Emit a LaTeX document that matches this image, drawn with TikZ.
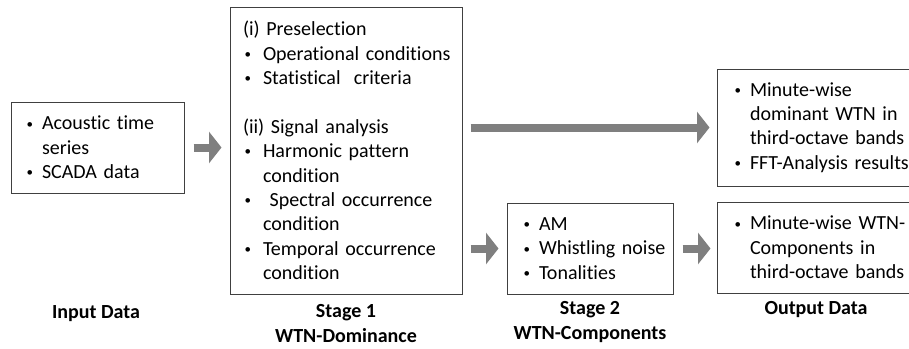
\documentclass[tikz,border=0pt]{standalone}
\usepackage{fontspec}
\setmainfont{Carlito}[Ligatures=NoCommon]
\usetikzlibrary{positioning,arrows.meta}
\definecolor{arrowgray}{RGB}{127,127,127}
\definecolor{boxline}{RGB}{64,64,64}
\newlength{\boxins}
\newcommand{\bul}[1][17pt]{\hspace*{\boxins}\makebox[#1][l]{\hspace{1.5pt}\raisebox{1.8pt}{\fontsize{13}{13}\selectfont•}}}
\newcommand{\cnt}[1][17pt]{\hspace*{\boxins}\hspace*{#1}}
\newcommand{\hd}{\hspace*{\boxins}}
\begin{document}
\begin{tikzpicture}[x=1pt, y=-1pt,
  box/.style={draw=boxline, line width=1pt, inner xsep=0pt, inner ysep=0pt, align=left, font=\fontsize{20}{24.4}\selectfont},
  ins/.style={execute at begin node={\setlength{\boxins}{#1}}},
  lbl/.style={inner sep=0pt, align=center, font=\fontsize{20}{25}\selectfont\bfseries},
  flow/.style={draw=arrowgray, line width=8pt, -{Triangle[width=31pt,length=12.5pt]}}]
\clip (0,0) rectangle (909,348);

% boxes
\node[box, ins=14pt, text width=173pt, minimum height=91pt] (in) at (97.5,147.5) {\bul Acoustic time\\ \cnt series\\ \bul SCADA data};
\node[box, ins=13pt, text width=232pt, minimum height=287pt] (s1) at (346,150.5) {\hd(i) Preselection\\ \bul[20pt]Operational conditions\\ \bul[20pt]Statistical\ \ criteria\\ \mbox{}\\ \hd(ii) Signal analysis\\ \bul[20pt]Harmonic pattern\\ \cnt[20pt]condition\\ \bul[20pt]\ Spectral occurrence\\ \cnt[20pt]condition\\ \bul[20pt]Temporal occurrence\\ \cnt[20pt]condition};
\node[box, ins=15pt, text width=166pt, minimum height=91pt] (s2) at (590,248.5) {\bul AM\\ \bul Whistling noise\\ \bul Tonalities};
\node[box, ins=16pt, text width=198pt, minimum height=117pt] (o1) at (816,127.5) {\bul Minute-wise\\ \cnt dominant WTN in\\ \cnt third-octave bands\\ \bul FFT-Analysis results};
\node[box, ins=16pt, text width=198pt, minimum height=91pt] (o2) at (816,247.5) {\bul Minute-wise WTN-\\ \cnt Components in\\ \cnt third-octave bands};

% captions
\node[lbl, anchor=north] (l0) at (96,305) {Input Data};
\node[lbl, below=10pt of s1] (l1) {Stage 1\\WTN-Dominance};
\node[lbl, below=7pt of s2] (l2) {Stage 2\\WTN-Components};
\node[lbl, below=8pt of o2] (l3) {Output Data};

% arrows
\draw[flow, shorten <=9pt, shorten >=8pt] (in.east) -- (in.east -| s1.west);
\draw[flow, shorten <=8pt, shorten >=7pt] (s1.east |- o1.west) -- (o1.west);
\draw[flow, shorten <=8pt, shorten >=8pt] (s1.east |- s2.west) -- (s2.west);
\draw[flow, shorten <=9pt, shorten >=6pt] (s2.east) -- (s2.east -| o2.west);
\end{tikzpicture}
\end{document}
